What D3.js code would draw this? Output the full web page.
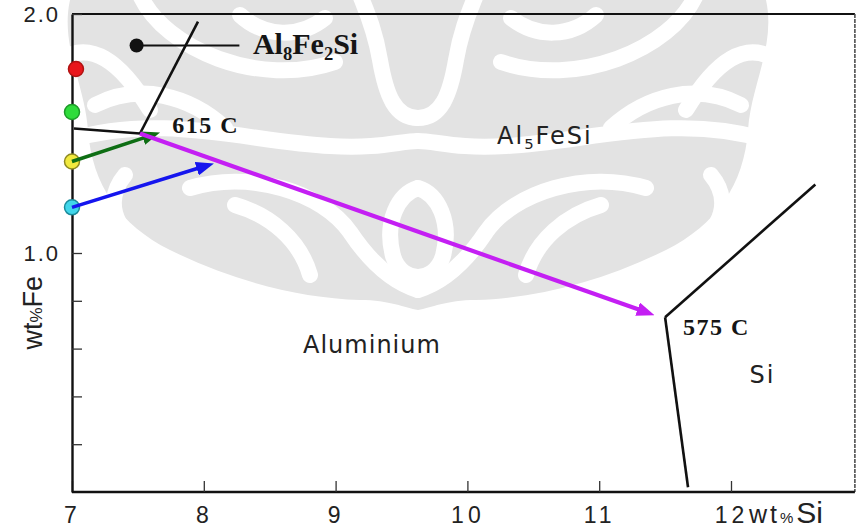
<!DOCTYPE html>
<html>
<head>
<meta charset="utf-8">
<script src="https://cdn.jsdelivr.net/npm/d3@7"></script>
<style>
  body { margin: 0; background: #fff; }
  svg { display: block; }
</style>
</head>
<body>
<div id="chart"></div>
<script>
let width = 862
let height = 530

// axes
let xTicks = [7, 8, 9, 10, 11, 12]
let yTicks = [0.2, 0.4, 0.6, 0.8, 1.0, 2.0]
let yLabelled = [1.0, 2.0]
let xEnd = 12.94

// alloy compositions marked on the Fe axis (wt% Si, wt% Fe)
let alloySi = [7.03, 7.0, 7.0, 7.0]
let alloyFe = [1.77, 1.59, 1.383, 1.191]
let alloyFill = ['#e8161c', '#2fdc3b', '#f1e93e', '#41d6ea']
let alloyStroke = ['#b01212', '#1d9a28', '#8f8a22', '#1b8c9c']

// phase boundaries
let boundaries = [
  [[7.956, 1.968], [7.516, 1.5]],
  [[7.015, 1.521], [7.516, 1.5]],
  [[11.5, 0.731], [12.64, 1.287]],
  [[11.5, 0.731], [11.674, 0.02]]
]

// Al8Fe2Si marker and its leader line
let markerPoint = [7.49, 1.868]
let leaderEnd = [8.27, 1.868]

// solidification paths
let arrowFrom = [[7.0, 1.383], [7.0, 1.191], [7.516, 1.5]]
let arrowTo = [[7.668, 1.504], [8.077, 1.375], [11.42, 0.74]]
let arrowColors = ['#0e6e14', '#1515ee', '#c41ff3']

// labels
let phaseNames = ['Aluminium', 'Al_5FeSi', 'Si']
let phaseAt = [[8.753, 0.581], [10.225, 1.458], [12.14, 0.455]]
let pointNames = ['615 C', '575 C', 'Al_8Fe_2Si']
let pointAt = [[7.76, 1.504], [11.636, 0.656], [8.373, 1.834]]

let xScale = d3.scaleLinear().domain([7, 12]).range([72, 731])
let yScale = d3.scaleLinear().domain([0, 2]).range([492, 14])

let svg = d3
  .select('#chart')
  .append('svg')
  .attr('width', width)
  .attr('height', height)

// faint watermark ornament behind the diagram (left half, mirrored)
let cx = 418
let ornament = svg.append('g')
let halves = [0, 1]
halves.forEach(h => {
  let g = ornament
    .append('g')
    .attr('transform', h ? `translate(${cx * 2},0) scale(-1,1)` : null)
  g.append('path')
    .attr('fill', '#e3e3e3')
    .attr('d', 'M418,0 H70 C60,45 85,85 88,130 C92,185 120,225 170,250 C235,282 300,298 360,300 C390,300 405,308 418,310 Z')
  g.append('g')
    .attr('fill', 'none')
    .attr('stroke', '#fff')
    .attr('stroke-width', 16)
    .attr('stroke-linecap', 'round')
    .selectAll('path')
    .data([
      'M70,140 C160,112 250,142 330,146 C380,149 400,141 418,141',
      'M418,118 C395,118 386,95 380,60 C375,30 366,10 360,-5',
      'M140,-5 C165,50 260,88 335,62',
      'M190,188 C250,170 322,192 350,232 C370,262 392,282 418,290',
      'M125,175 C100,205 118,245 175,262',
      'M418,188 C398,194 384,222 393,256 C398,272 410,277 418,277',
      'M60,60 C90,40 120,60 150,110',
      'M95,105 C140,82 190,96 225,128',
      'M240,15 C265,38 300,38 325,18',
      'M235,205 C270,215 300,240 310,275'
    ])
    .enter()
    .append('path')
    .attr('d', d => d)
})

let plot = svg.append('g')

// frame: top and right edges
plot
  .append('line')
  .attr('x1', xScale(7))
  .attr('x2', xScale(xEnd))
  .attr('y1', yScale(2))
  .attr('y2', yScale(2))
  .attr('stroke', '#111')
  .attr('stroke-width', 2)
plot
  .append('line')
  .attr('x1', xScale(xEnd))
  .attr('x2', xScale(xEnd))
  .attr('y1', yScale(2))
  .attr('y2', yScale(0))
  .attr('stroke', '#444')
  .attr('stroke-width', 1.5)
  .attr('stroke-dasharray', '4,1')

let xAxis = d3
  .axisBottom(xScale)
  .tickValues(xTicks)
  .tickSize(-11)
  .tickSizeOuter(0)
  .tickPadding(15)
  .tickFormat(d3.format('d'))

let yAxis = d3
  .axisLeft(yScale)
  .tickValues(yTicks)
  .tickSize(-10)
  .tickSizeOuter(0)
  .tickPadding(12)
  .tickFormat(d => (yLabelled.includes(d) ? d3.format('.1f')(d) : ''))

let xAxisG = plot
  .append('g')
  .attr('transform', `translate(0,${yScale(0)})`)
  .call(xAxis)
xAxisG.select('.domain').attr('d', `M${xScale(7)},0H${xScale(xEnd)}`)

let yAxisG = plot
  .append('g')
  .attr('transform', `translate(${xScale(7)},0)`)
  .call(yAxis)

plot
  .selectAll('.domain')
  .attr('stroke', '#111')
  .attr('stroke-width', 2.4)
plot
  .selectAll('.tick line')
  .attr('stroke', '#333')
  .attr('stroke-width', 1.3)
plot
  .selectAll('.tick text')
  .attr('font-family', '"Liberation Sans", Arial, sans-serif')
  .attr('font-size', 23)
  .attr('fill', '#222')
  .attr('letter-spacing', 4)
yAxisG
  .selectAll('.tick text')
  .attr('font-size', 22)
  .attr('letter-spacing', 2)

// axis titles
plot
  .append('text')
  .attr('transform', `translate(${xScale(7) - 30},${yScale(0.75)}) rotate(-90)`)
  .attr('text-anchor', 'middle')
  .attr('font-family', '"Liberation Sans", Arial, sans-serif')
  .attr('font-size', 27)
  .attr('fill', '#222')
  .call(t => {
    t.append('tspan').text('wt')
    t.append('tspan').text('%').attr('font-size', 17)
    t.append('tspan').text('Fe')
  })

plot
  .append('text')
  .attr('x', xScale(12) + 18)
  .attr('y', yScale(0) + 31)
  .attr('font-family', '"Liberation Sans", Arial, sans-serif')
  .attr('fill', '#222')
  .call(t => {
    t.append('tspan').text('wt').attr('font-size', 25).attr('letter-spacing', 3)
    t.append('tspan').text('%').attr('font-size', 15)
    t.append('tspan').text('Si').attr('font-size', 30).attr('dx', 3)
  })

// phase boundary lines
let line = d3
  .line()
  .x(d => xScale(d[0]))
  .y(d => yScale(d[1]))

plot
  .selectAll('.boundary')
  .data(boundaries)
  .enter()
  .append('path')
  .attr('class', 'boundary')
  .attr('d', line)
  .attr('fill', 'none')
  .attr('stroke', '#111')
  .attr('stroke-width', 2.6)

plot
  .append('path')
  .datum([markerPoint, leaderEnd])
  .attr('d', line)
  .attr('stroke', '#111')
  .attr('stroke-width', 2)
plot
  .append('circle')
  .attr('cx', xScale(markerPoint[0]))
  .attr('cy', yScale(markerPoint[1]))
  .attr('r', 7)
  .attr('fill', '#111')

// alloy dots on the axis
plot
  .selectAll('.alloy')
  .data(alloyFe)
  .enter()
  .append('circle')
  .attr('class', 'alloy')
  .attr('cx', (d, i) => xScale(alloySi[i]))
  .attr('cy', d => yScale(d))
  .attr('r', 7.5)
  .attr('fill', (d, i) => alloyFill[i])
  .attr('stroke', (d, i) => alloyStroke[i])
  .attr('stroke-width', 1.5)

// arrows
let defs = svg.append('defs')
defs
  .selectAll('marker')
  .data(arrowColors)
  .enter()
  .append('marker')
  .attr('id', (d, i) => 'head-' + i)
  .attr('viewBox', '0 0 18 14')
  .attr('refX', 8)
  .attr('refY', 7)
  .attr('markerWidth', 18)
  .attr('markerHeight', 14)
  .attr('markerUnits', 'userSpaceOnUse')
  .attr('orient', 'auto')
  .append('path')
  .attr('d', 'M0,0 L18,7 L0,14 Z')
  .attr('fill', d => d)

plot
  .selectAll('.arrow')
  .data(arrowFrom)
  .enter()
  .append('line')
  .attr('class', 'arrow')
  .each(function(d, i) {
    let x1 = xScale(d[0])
    let y1 = yScale(d[1])
    let x2 = xScale(arrowTo[i][0])
    let y2 = yScale(arrowTo[i][1])
    let len = Math.hypot(x2 - x1, y2 - y1)
    let k = (len - 10) / len
    d3.select(this)
      .attr('x1', x1)
      .attr('y1', y1)
      .attr('x2', x1 + (x2 - x1) * k)
      .attr('y2', y1 + (y2 - y1) * k)
  })
  .attr('stroke', (d, i) => arrowColors[i])
  .attr('stroke-width', (d, i) => (i === 2 ? 4.2 : 3.6))
  .attr('marker-end', (d, i) => `url(#head-${i})`)

// formula text with numeric subscripts
function formula(t, label, size) {
  let parts = label.split(/_(\d)/)
  let down = false
  parts.forEach((p, i) => {
    if (!p) return
    let sub = i % 2 === 1
    let shift = sub ? size * 0.22 : down ? -size * 0.22 : 0
    down = sub
    t.append('tspan')
      .text(p)
      .attr('font-size', sub ? size * 0.62 : size)
      .attr('dy', shift || null)
  })
}

plot
  .selectAll('.phase')
  .data(phaseNames)
  .enter()
  .append('text')
  .attr('class', 'phase')
  .attr('x', (d, i) => xScale(phaseAt[i][0]))
  .attr('y', (d, i) => yScale(phaseAt[i][1]))
  .attr('font-family', '"DejaVu Sans", Verdana, sans-serif')
  .attr('fill', '#222')
  .attr('letter-spacing', (d, i) => (i === 0 ? 1 : 2))
  .each(function(d) {
    formula(d3.select(this), d, 24)
  })

plot
  .selectAll('.point-label')
  .data(pointNames)
  .enter()
  .append('text')
  .attr('class', 'point-label')
  .attr('x', (d, i) => xScale(pointAt[i][0]))
  .attr('y', (d, i) => yScale(pointAt[i][1]))
  .attr('font-family', '"Liberation Serif", "Times New Roman", serif')
  .attr('font-weight', 'bold')
  .attr('fill', '#151515')
  .attr('letter-spacing', (d, i) => (i === 2 ? 0 : 1.5))
  .each(function(d, i) {
    formula(d3.select(this), d, i === 2 ? 30 : 24)
  })
</script>
</body>
</html>
